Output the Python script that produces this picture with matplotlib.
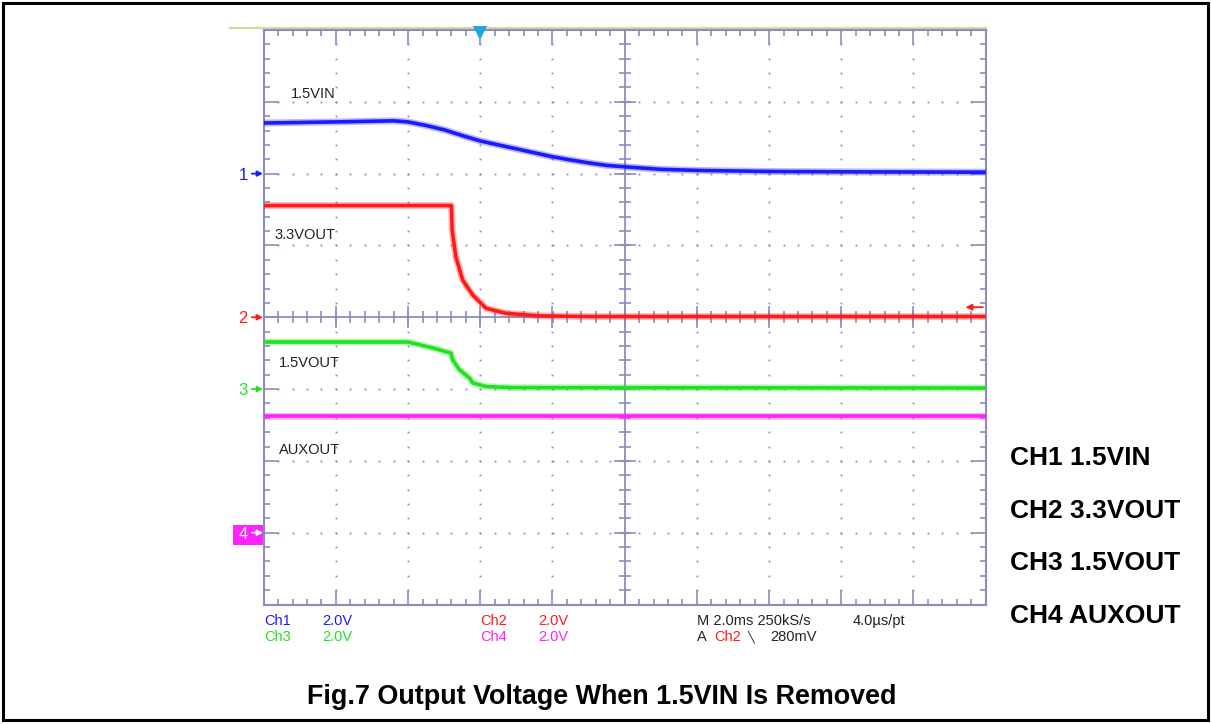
import numpy as np
import matplotlib
matplotlib.use("Agg")
import matplotlib.pyplot as plt
from matplotlib.patches import Rectangle

plt.rcParams['font.family'] = ['Liberation Sans', 'DejaVu Sans']

# ------------------------
# DATA (time in ms relative to trigger, level in V above channel ground)
# ------------------------
ch1_t = [-6, -4, -2.4, -2.0, -1.5, -1.0, -0.5, 0, 0.5, 1, 1.5, 2, 2.5, 3, 3.5, 4, 5, 6, 8, 10, 14]
ch1_v = [1.41, 1.44, 1.47, 1.44, 1.34, 1.22, 1.06, 0.91, 0.80, 0.69, 0.58, 0.47, 0.38, 0.30, 0.23,
         0.19, 0.12, 0.09, 0.06, 0.05, 0.04]

ch2_t = [-6, -0.80, -0.78, -0.68, -0.49, -0.21, 0.16, 0.71, 1.6, 3, 14]
ch2_v = [3.11, 3.11, 2.43, 1.69, 1.04, 0.62, 0.25, 0.11, 0.04, 0.02, 0.02]

ch3_t = [-6, -2.0, -1.3, -0.81, -0.77, -0.58, -0.30, -0.21, 0.16, 0.89, 14]
ch3_v = [1.31, 1.31, 1.14, 1.00, 0.82, 0.54, 0.31, 0.17, 0.07, 0.04, 0.03]

ch4_t = [-6, 14]
ch4_v = [3.24, 3.24]

ch_names = ["1.5VIN", "3.3VOUT", "1.5VOUT", "AUXOUT"]
ch_offsets = [2, 0, -1, -3]          # ground marker position, divisions
volts_per_div = 2.0
trig_level = 0.28                    # V on Ch2

legend_lines = ["CH1 1.5VIN", "CH2 3.3VOUT", "CH3 1.5VOUT", "CH4 AUXOUT"]
title = "Fig.7 Output Voltage When 1.5VIN Is Removed"

# ------------------------
# STYLE
# ------------------------
W, H = 1211, 724
GRID = '#8c8cbe'
COLORS = ['#1a1aff', '#ff1a1a', '#22e022', '#ff22ff']
TEXT = '#222222'


def fx(px):
    return px / W


def fy(py):
    return 1 - py / H


fig = plt.figure(figsize=(W / 100, H / 100), dpi=100)

# outer page border
fig.patches.append(Rectangle((fx(3), fy(720)), fx(1205), (717) / H, transform=fig.transFigure,
                             fill=False, edgecolor='black', linewidth=2.2))

# scope screen
left, right, top, bottom = 263.7, 985.7, 30, 604.5
ax = fig.add_axes([fx(left), fy(bottom), (right - left) / W, (bottom - top) / H])
ax.set_xlim(-6, 14)
ax.set_ylim(-4, 4)
ax.set_xticks(np.arange(-6, 14.01, 2))
ax.set_xticks(np.arange(-6, 14.01, 0.4), minor=True)
ax.set_yticks(np.arange(-4, 4.01, 1))
ax.set_yticks(np.arange(-4, 4.01, 0.2), minor=True)
ax.tick_params(which='both', direction='in', top=True, right=True, bottom=True, left=True,
               labelbottom=False, labelleft=False, color=GRID, width=1.2)
ax.tick_params(which='major', length=10.5)
ax.tick_params(which='minor', length=4.5)
for sp in ax.spines.values():
    sp.set_color(GRID)
    sp.set_linewidth(1.5)

# dotted division grid
xminor = np.arange(-6, 14.01, 0.4)
yminor = np.arange(-4, 4.01, 0.2)
for xd in [-4, -2, 0, 2, 6, 8, 10, 12]:
    ax.plot(np.full(len(yminor), xd), yminor, ls='none', marker='s', ms=1.3, color=GRID, mew=0)
for yd in [-3, -2, -1, 1, 2, 3]:
    ax.plot(xminor, np.full(len(xminor), yd), ls='none', marker='s', ms=1.3, color=GRID, mew=0)

# centre cross with ticks
ax.axvline(4, color=GRID, lw=1.3)
ax.axhline(0, color=GRID, lw=1.3)
ax.plot(np.full(len(yminor), 4), yminor, ls='none', marker='_', ms=8.5, mew=1.2, color=GRID)
ax.plot(xminor, np.zeros(len(xminor)), ls='none', marker='|', ms=8.5, mew=1.2, color=GRID)
xmajor = np.arange(-6, 14.01, 2)
ax.plot(xmajor, np.zeros(len(xmajor)), ls='none', marker='|', ms=16, mew=1.2, color=GRID)
ymajor = np.arange(-4, 4.01, 1)
ax.plot(np.full(len(ymajor), 4), ymajor, ls='none', marker='_', ms=16, mew=1.2, color=GRID)

# traces
traces = [(ch1_t, ch1_v), (ch2_t, ch2_v), (ch3_t, ch3_v), (ch4_t, ch4_v)]
for (t, v), off, c in zip(traces, ch_offsets, COLORS):
    y = off + np.asarray(v) / volts_per_div
    ax.plot(t, y, color=c, lw=5.0, alpha=0.3, solid_capstyle='butt', zorder=3)
    ax.plot(t, y, color=c, lw=2.6, solid_capstyle='butt', zorder=4)

# trace labels
label_pos = [(-5.24, 3.11), (-5.71, 1.15), (-5.57, -0.64), (-5.57, -1.85)]
for name, (lx, ly) in zip(ch_names, label_pos):
    ax.text(lx, ly, name, fontsize=10.5, color=TEXT, ha='left', va='center', zorder=5)

# ground markers on the left
ytr = ax.get_yaxis_transform()
for i, (off, c) in enumerate(zip(ch_offsets, COLORS)):
    if i == 3:
        ax.add_patch(Rectangle((-0.0425, off - 0.17), 0.0424, 0.28, transform=ytr,
                               facecolor=c, edgecolor='none', clip_on=False))
        c = 'white'
    ax.text(-0.0285, off - 0.02, str(i + 1), transform=ytr, color=c, fontsize=12,
            ha='center', va='center', clip_on=False)
    ax.annotate('', xy=(-0.001, off), xycoords=ytr, xytext=(-0.0165, off), textcoords=ytr,
                arrowprops=dict(arrowstyle='-|>', color=c, lw=1.3, mutation_scale=8,
                                shrinkA=0, shrinkB=0),
                annotation_clip=False)

# trigger position marker and trigger level arrow
ax.plot(0, 3.955, marker='v', ms=10, color='#1ea8e0', mew=0, clip_on=False, zorder=6)
lvl = ch_offsets[1] + trig_level / volts_per_div
ax.annotate('', xy=(0.972, lvl), xycoords=ytr, xytext=(0.996, lvl), textcoords=ytr,
            arrowprops=dict(arrowstyle='-|>', color=COLORS[1], lw=1.3, mutation_scale=9,
                            shrinkA=0, shrinkB=0),
            annotation_clip=False, zorder=6)

# khaki line above the screen
ax.plot([-0.0467, 1.0], [1.0035, 1.0035], transform=ax.transAxes, color='#d8d8a0', lw=1.6,
        clip_on=False)

# readout text below the screen
fs = 10.5
fig.text(fx(264), fy(620.7), "Ch1", color=COLORS[0], fontsize=fs, va='center')
fig.text(fx(322), fy(620.7), "2.0V", color=COLORS[0], fontsize=fs, va='center')
fig.text(fx(264), fy(637), "Ch3", color=COLORS[2], fontsize=fs, va='center')
fig.text(fx(322), fy(637), "2.0V", color=COLORS[2], fontsize=fs, va='center')
fig.text(fx(480.7), fy(620.7), "Ch2", color=COLORS[1], fontsize=fs, va='center')
fig.text(fx(538), fy(620.7), "2.0V", color=COLORS[1], fontsize=fs, va='center')
fig.text(fx(480.7), fy(637), "Ch4", color=COLORS[3], fontsize=fs, va='center')
fig.text(fx(538), fy(637), "2.0V", color=COLORS[3], fontsize=fs, va='center')
fig.text(fx(697), fy(620.7), "M 2.0ms 250kS/s", color=TEXT, fontsize=fs, va='center')
fig.text(fx(853), fy(620.7), "4.0\u00b5s/pt", color=TEXT, fontsize=fs, va='center')
fig.text(fx(697), fy(637), "A", color=TEXT, fontsize=fs, va='center')
fig.text(fx(714), fy(637), "Ch2", color=COLORS[1], fontsize=fs, va='center')
fig.text(fx(747), fy(637), "\u2572", color=TEXT, fontsize=8, va='center',
         family=['DejaVu Sans'])
fig.text(fx(770), fy(637), "280mV", color=TEXT, fontsize=fs, va='center')

# channel legend at the right
for i, s in enumerate(legend_lines):
    fig.text(fx(1010), fy(458 + 52.7 * i), s, fontsize=19, fontweight='bold', color='black',
             ha='left', va='center')

fig.text(fx(602), fy(697), title, fontsize=19.4, fontweight='bold', color='black',
         ha='center', va='center')

fig.savefig("out.png", dpi=100)
